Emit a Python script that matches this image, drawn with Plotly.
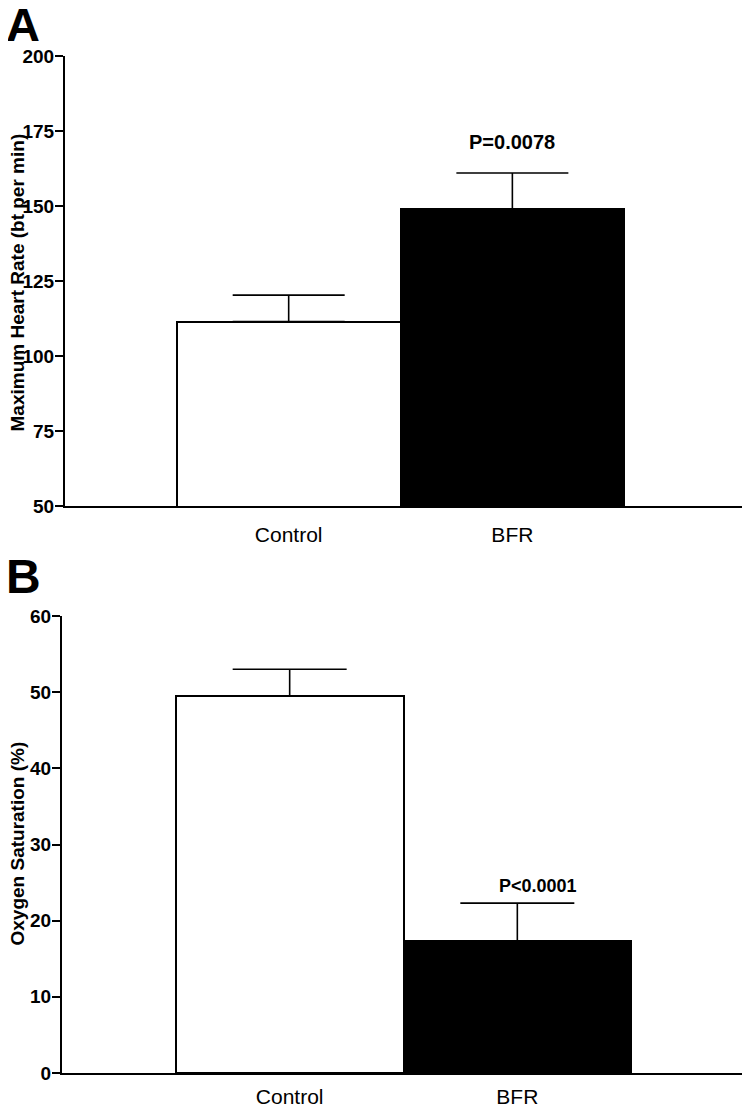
import plotly.graph_objects as go

groups = ["Control", "BFR"]

# panel A: maximum heart rate
hr_mean = [111.5, 149.0]
hr_sem = [8.8, 12.0]
hr_p = "P=0.0078"

# panel B: oxygen saturation
o2_mean = [49.5, 17.3]
o2_sem = [3.5, 5.0]
o2_p = "P<0.0001"

FONT = "Liberation Sans"
W, H, PAD = 750, 1107, 8   # page body adds an 8px offset


def px_x(sx):
    return (sx - PAD) / W


def px_y(sy):
    return 1 - (sy - PAD) / H


bar_fill = ["white", "black"]

fig = go.Figure()

fig.add_trace(go.Bar(
    x=groups, y=hr_mean, width=1.0, xaxis="x", yaxis="y",
    marker=dict(color=bar_fill, line=dict(color="black", width=2)),
    error_y=dict(type="data", array=hr_sem, arrayminus=[0, 0], symmetric=False,
                 color="black", thickness=1.6, width=56),
    showlegend=False))

fig.add_trace(go.Bar(
    x=groups, y=o2_mean, width=1.0, xaxis="x2", yaxis="y2",
    marker=dict(color=bar_fill, line=dict(color="black", width=2)),
    error_y=dict(type="data", array=o2_sem, arrayminus=[0, 0], symmetric=False,
                 color="black", thickness=1.6, width=57),
    showlegend=False))

yax = dict(showline=True, linecolor="black", linewidth=2, ticks="outside",
           ticklen=8, tickwidth=2, tickcolor="black", showgrid=False, automargin=False,
           zeroline=False, ticklabelstandoff=-3,
           tickfont=dict(family=FONT, size=19, color="black", weight="bold"))
xax = dict(showline=True, linecolor="black", linewidth=2, ticks="outside",
           tickcolor="rgba(0,0,0,0)", showgrid=False, zeroline=False,
           automargin=False, tickfont=dict(family=FONT, size=21, color="black"))

fig.update_layout(
    width=W, height=H,
    template="none",
    margin=dict(l=0, r=0, t=0, b=0, autoexpand=False),
    plot_bgcolor="white", paper_bgcolor="white",
    xaxis=dict(xax, domain=[px_x(65), px_x(745)], range=[-1, 2.04], anchor="y", ticklen=9),
    yaxis=dict(yax, domain=[px_y(506), px_y(56)], range=[50, 200], dtick=25, anchor="x"),
    xaxis2=dict(xax, domain=[px_x(62), px_x(745)], range=[-1, 2], anchor="y2", ticklen=4),
    yaxis2=dict(yax, domain=[px_y(1073), px_y(616)], range=[0, 60], dtick=10, anchor="x2"),
    bargap=0,
)

fig.add_annotation(x=1, y=171.5, xref="x", yref="y", text=hr_p, showarrow=False,
                   font=dict(family=FONT, size=20, color="black", weight="bold"))
fig.add_annotation(x=1.09, y=24.5, xref="x2", yref="y2", text=o2_p, showarrow=False,
                   font=dict(family=FONT, size=18, color="black", weight="bold"))

fig.add_annotation(x=px_x(16.5), y=px_y(283), xref="paper", yref="paper",
                   text="Maximum Heart Rate (bt per min)", textangle=-90, showarrow=False,
                   xanchor="center", yanchor="middle",
                   font=dict(family=FONT, size=19, color="black", weight="bold"))
fig.add_annotation(x=px_x(16.5), y=px_y(844), xref="paper", yref="paper",
                   text="Oxygen Saturation (%)", textangle=-90, showarrow=False,
                   xanchor="center", yanchor="middle",
                   font=dict(family=FONT, size=19, color="black", weight="bold"))

fig.add_annotation(x=px_x(4), y=px_y(-4), xref="paper", yref="paper", text="A",
                   xanchor="left", yanchor="top", showarrow=False,
                   font=dict(family=FONT, size=47, color="black", weight="bold"))
fig.add_annotation(x=px_x(4), y=px_y(548), xref="paper", yref="paper", text="B",
                   xanchor="left", yanchor="top", showarrow=False,
                   font=dict(family=FONT, size=48, color="black", weight="bold"))

fig.write_html("out.html")
